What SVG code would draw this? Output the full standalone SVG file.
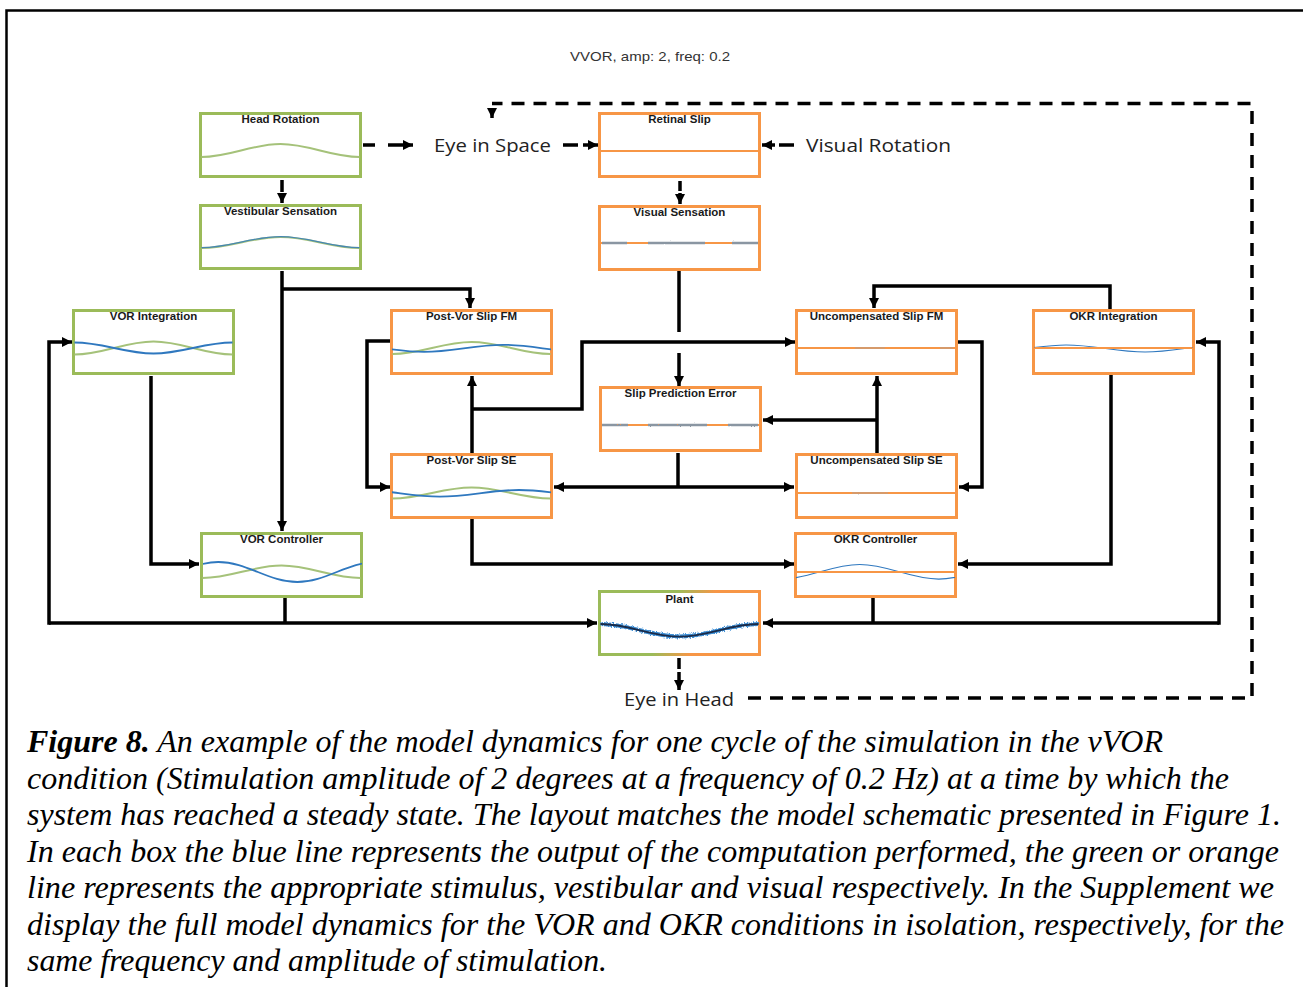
<svg xmlns="http://www.w3.org/2000/svg" width="1303" height="987" viewBox="0 0 1303 987">
<defs>
<style>
.box{fill:#fff;stroke-width:3}
.gb{stroke:#9bbb59}
.ob{stroke:#f79646}
.lbl{font-family:"Liberation Sans",Arial,sans-serif;font-weight:bold;font-size:11.5px;fill:#1a1a1a;text-anchor:middle}
.gc{fill:none;stroke:#a5c27a;stroke-width:2}
.bc{fill:none;stroke:#2f78bf;stroke-width:1.8}
.bt{fill:none;stroke:#2f78bf;stroke-width:1.1}
.oc{fill:none;stroke:#f79646;stroke-width:2}
.nz{fill:none;stroke:#8a96a2;stroke-width:2.4;filter:url(#fuzz2)}
.fz{fill:none;stroke:#9aa3ad;stroke-width:1.2;opacity:0.7;filter:url(#fuzz2)}
.c{fill:none;stroke:#000;stroke-width:3.5}
.a{marker-end:url(#ah)}
.d{stroke-dasharray:13 9}
.big{font-family:"Open Sans","Liberation Sans",sans-serif;font-size:19px;fill:#222}
.cap{font-family:"Liberation Serif","Times New Roman",serif;font-style:italic;font-size:32px;fill:#000}
</style>
<marker id="ah" viewBox="0 0 10 10" refX="10" refY="5" markerWidth="10" markerHeight="10" markerUnits="userSpaceOnUse" orient="auto"><path d="M0,0 L10,5 L0,10 z" fill="#000"/></marker>
<filter id="fuzz" filterUnits="userSpaceOnUse" x="0" y="0" width="1303" height="987">
<feTurbulence type="fractalNoise" baseFrequency="0.9 0.6" numOctaves="2" seed="3" result="n"/>
<feDisplacementMap in="SourceGraphic" in2="n" scale="4" xChannelSelector="R" yChannelSelector="G"/>
</filter>
<filter id="fuzz2" filterUnits="userSpaceOnUse" x="0" y="0" width="1303" height="987">
<feTurbulence type="fractalNoise" baseFrequency="0.7 0.5" numOctaves="1" seed="5" result="n"/>
<feDisplacementMap in="SourceGraphic" in2="n" scale="2" xChannelSelector="R" yChannelSelector="G"/>
</filter>
<linearGradient id="pg" gradientUnits="userSpaceOnUse" x1="598" y1="590" x2="762" y2="656"><stop offset="0.42" stop-color="#9bbb59"/><stop offset="0.62" stop-color="#f79646"/></linearGradient>
</defs>
<rect width="1303" height="987" fill="#fff"/>
<path d="M6.5,987 V10.5 H1303" fill="none" stroke="#000" stroke-width="2.5"/>
<text x="570" y="61" font-family="'Liberation Sans',Arial,sans-serif" font-size="13" fill="#333" textLength="160" lengthAdjust="spacingAndGlyphs">VVOR, amp: 2, freq: 0.2</text>

<g id="connectors">
<path class="c a" d="M282,271 V531"/>
<path class="c a" d="M282,289 H470 V308"/>
<path class="c a" d="M151,376 V564 H199"/>
<path class="c" d="M285,598 V623"/>
<path class="c a" d="M49,623 H597"/>
<path class="c a" d="M49,624.75 V342 H72"/>
<path class="c" d="M873,598 V623"/>
<path class="c a" d="M1219,623 H763"/>
<path class="c a" d="M1219,624.75 V342 H1196"/>
<path class="c a" d="M1110,309 V286 H874 V308"/>
<path class="c a" d="M1111,375 V564 H958"/>
<path class="c a" d="M958,342 H982 V487 H959"/>
<path class="c a" d="M877,453 V376"/>
<path class="c a" d="M877,420 H763"/>
<path class="c" d="M678,453 V487"/>
<path class="c a" d="M678,487 H554"/>
<path class="c a" d="M678,487 H794"/>
<path class="c" d="M679,271 V332"/>
<path class="c a" d="M679,353 V386"/>
<path class="c a" d="M472,453 V376"/>
<path class="c a" d="M472,409 H582 V342 H795"/>
<path class="c a" d="M390,341 H367 V487 H390"/>
<path class="c a" d="M472,519 V564 H794"/>
<path class="c a" d="M363,145 H375 M388,145 H413"/>
<path class="c a" d="M563,145 H578 M583,145 H598"/>
<path class="c a" d="M794,145 H779 M775,145 H762"/>
<path class="c a" d="M282,180 V192 M282,194 V203"/>
<path class="c a" d="M680,181 V191 M680,193 V204"/>
<path class="c a" d="M679,658 V669 M679,672 V690"/>
<path class="c d" d="M748,698 H1252 V103.5 H492"/>
<path class="c a" d="M492,108 V118"/>
</g>

<text class="big" x="434" y="152" textLength="117" lengthAdjust="spacingAndGlyphs">Eye in Space</text>
<text class="big" x="806" y="152" textLength="145" lengthAdjust="spacingAndGlyphs">Visual Rotation</text>
<text class="big" x="624" y="706" textLength="110" lengthAdjust="spacingAndGlyphs">Eye in Head</text>

<g id="head-rotation">
<rect class="box gb" x="200.5" y="113.5" width="160" height="63"/>
<text class="lbl" x="280.5" y="123">Head Rotation</text>
<path class="gc" d="M201.5,157 c28.7,0 50.3,-13 79,-13 s50.3,13 79,13"/>
</g>
<g id="vestibular-sensation">
<rect class="box gb" x="200.5" y="205.5" width="160" height="63"/>
<text class="lbl" x="280.5" y="215">Vestibular Sensation</text>
<path class="gc" d="M201.5,248 c28.7,0 50.3,-11 79,-11 s50.3,11 79,11"/>
<path class="bt" opacity="0.8" d="M201.5,247.6 c28.7,0 50.3,-11 79,-11 s50.3,11 79,11"/>
</g>
<g id="retinal-slip">
<rect class="box ob" x="599.5" y="113.5" width="160" height="63"/>
<text class="lbl" x="679.5" y="123">Retinal Slip</text>
<path class="oc" d="M600.5,151 H759.5"/>
</g>
<g id="visual-sensation">
<rect class="box ob" x="599.5" y="206.5" width="160" height="63"/>
<text class="lbl" x="679.5" y="216">Visual Sensation</text>
<path class="oc" d="M600.5,243 H759.5"/>
<path class="nz" d="M602,243 H627 M648,243 H705 M732,243 H758"/>
</g>
<g id="vor-integration">
<rect class="box gb" x="73.5" y="310.5" width="160" height="63"/>
<text class="lbl" x="153.5" y="320">VOR Integration</text>
<path class="gc" d="M74.5,354.5 c28.7,0 50.3,-13 79,-13 s50.3,13 79,13"/>
<path class="bc" d="M74.5,342.5 c28.7,0 50.3,11 79,11 s50.3,-11 79,-11"/>
</g>
<g id="post-vor-slip-fm">
<rect class="box ob" x="391.5" y="310.5" width="160" height="63"/>
<text class="lbl" x="471.5" y="320">Post-Vor Slip FM</text>
<path class="gc" d="M392.5,354 c28.7,0 50.3,-12 79,-12 s50.3,12 79,12"/>
<svg x="392" y="311" width="159" height="62" viewBox="392 311 159 62" overflow="hidden"><path class="bc" d="M345.1,344.8 c28.7,0 50.3,7 79,7 s50.3,-7 79,-7 s50.3,7 79,7"/></svg>
</g>
<g id="uncompensated-slip-fm">
<rect class="box ob" x="796.5" y="310.5" width="160" height="63"/>
<text class="lbl" x="876.5" y="320">Uncompensated Slip FM</text>
<path class="oc" d="M797.5,348 H955.5"/>
<path class="fz" d="M855,348 H885 M940,348 H953"/>
</g>
<g id="okr-integration">
<rect class="box ob" x="1033.5" y="310.5" width="160" height="63"/>
<text class="lbl" x="1113.5" y="320">OKR Integration</text>
<svg x="1034" y="311" width="159" height="62" viewBox="1034 311 159 62" overflow="hidden"><path class="bt" d="M987.1,352 c28.7,0 50.3,-7 79,-7 s50.3,7 79,7 s50.3,-7 79,-7"/></svg>
<path class="oc" d="M1034.5,348 H1192.5"/>
</g>
<g id="slip-prediction-error">
<rect class="box ob" x="600.5" y="387.5" width="160" height="63"/>
<text class="lbl" x="680.5" y="397">Slip Prediction Error</text>
<path class="oc" d="M601.5,425 H759.5"/>
<path class="nz" d="M602,425 H628 M648,425 H707 M728,425 H758"/>
</g>
<g id="post-vor-slip-se">
<rect class="box ob" x="391.5" y="454.5" width="160" height="63"/>
<text class="lbl" x="471.5" y="464">Post-Vor Slip SE</text>
<path class="gc" d="M392.5,498.5 c28.7,0 50.3,-11 79,-11 s50.3,11 79,11"/>
<svg x="392" y="455" width="159" height="62" viewBox="392 455 159 62" overflow="hidden"><path class="bc" d="M360.9,490 c28.7,0 50.3,6.6 79,6.6 s50.3,-6.6 79,-6.6 s50.3,6.6 79,6.6"/></svg>
</g>
<g id="uncompensated-slip-se">
<rect class="box ob" x="796.5" y="454.5" width="160" height="63"/>
<text class="lbl" x="876.5" y="464">Uncompensated Slip SE</text>
<path class="oc" d="M797.5,493 H955.5"/>
<path class="fz" d="M852,493 H888"/>
</g>
<g id="vor-controller">
<rect class="box gb" x="201.5" y="533.5" width="160" height="63"/>
<text class="lbl" x="281.5" y="543">VOR Controller</text>
<path class="gc" d="M202.5,578 c28.7,0 50.3,-12.4 79,-12.4 s50.3,12.4 79,12.4"/>
<svg x="203" y="534" width="159" height="62" viewBox="203 534 159 62" overflow="hidden"><path class="bc" d="M139.3,582 c28.7,0 50.3,-20 79,-20 s50.3,20 79,20 s50.3,-20 79,-20"/></svg>
</g>
<g id="okr-controller">
<rect class="box ob" x="795.5" y="533.5" width="160" height="63"/>
<text class="lbl" x="875.5" y="543">OKR Controller</text>
<svg x="796" y="534" width="159" height="62" viewBox="796 534 159 62" overflow="hidden"><path class="bt" d="M780.7,579.1 c28.7,0 50.3,-14.6 79,-14.6 s50.3,14.6 79,14.6 s50.3,-14.6 79,-14.6"/></svg>
<path class="oc" d="M796.5,572 H954.5"/>
</g>
<g id="plant">
<rect class="box" stroke="url(#pg)" x="599.5" y="591.5" width="160" height="63"/>
<text class="lbl" x="679.5" y="603">Plant</text>
<path fill="none" stroke="#3d8fd6" stroke-width="4" filter="url(#fuzz)" d="M600.5,624 c28.7,0 50.3,12.6 79,12.6 s50.3,-12.6 79,-12.6"/>
<path fill="none" stroke="#1b2b48" stroke-width="1.8" d="M600.5,624 c28.7,0 50.3,12.6 79,12.6 s50.3,-12.6 79,-12.6"/>
</g>

<g id="caption">
<text class="cap" x="27" y="752" textLength="1136" lengthAdjust="spacingAndGlyphs"><tspan font-weight="bold">Figure 8.</tspan> An example of the model dynamics for one cycle of the simulation in the vVOR</text>
<text class="cap" x="27" y="788.5" textLength="1202" lengthAdjust="spacingAndGlyphs">condition (Stimulation amplitude of 2 degrees at a frequency of 0.2 Hz) at a time by which the</text>
<text class="cap" x="27" y="825" textLength="1254" lengthAdjust="spacingAndGlyphs">system has reached a steady state. The layout matches the model schematic presented in Figure 1.</text>
<text class="cap" x="27" y="862" textLength="1252" lengthAdjust="spacingAndGlyphs">In each box the blue line represents the output of the computation performed, the green or orange</text>
<text class="cap" x="27" y="898" textLength="1247" lengthAdjust="spacingAndGlyphs">line represents the appropriate stimulus, vestibular and visual respectively. In the Supplement we</text>
<text class="cap" x="27" y="935" textLength="1257" lengthAdjust="spacingAndGlyphs">display the full model dynamics for the VOR and OKR conditions in isolation, respectively, for the</text>
<text class="cap" x="27" y="971" textLength="580" lengthAdjust="spacingAndGlyphs">same frequency and amplitude of stimulation.</text>
</g>
</svg>
